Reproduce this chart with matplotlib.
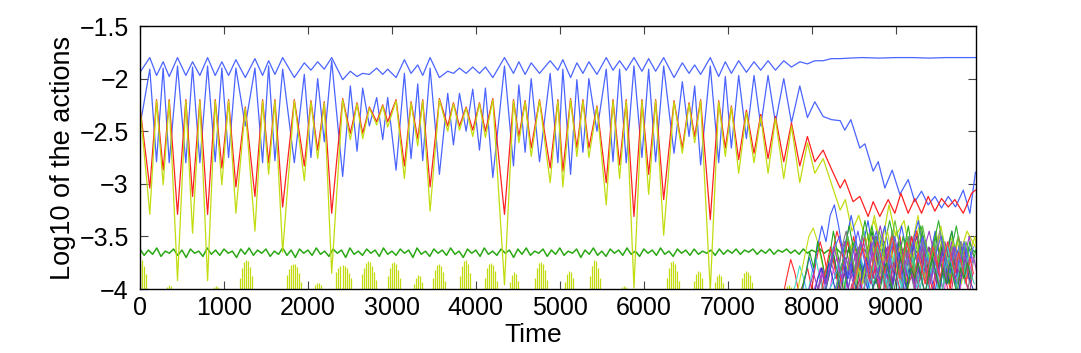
import numpy as np
import matplotlib
matplotlib.use("Agg")
import matplotlib.pyplot as plt

plt.rcParams['font.family'] = ['Liberation Sans', 'DejaVu Sans']

# extrema times shared by the four main curves (t <= 8339)
t_ext = [0, 117, 197, 276, 348, 447, 546, 626, 713, 805, 896, 975, 1055, 1142, 1254,
         1369, 1460, 1532, 1607, 1699, 1838, 1957, 2036, 2116, 2195, 2283, 2414, 2505,
         2585, 2652, 2732, 2819, 2891, 2950, 3050, 3149, 3228, 3308, 3367, 3455, 3566,
         3665, 3733, 3805, 3884, 3963, 4043, 4114, 4202, 4341, 4448, 4512, 4587, 4659,
         4758, 4885, 4977, 5036, 5128, 5203, 5275, 5346, 5442, 5553, 5633, 5712, 5791,
         5883, 5978, 6058, 6141, 6237, 6360, 6459, 6539, 6606, 6677, 6792, 6892, 6971,
         7043, 7130, 7222, 7313, 7393, 7480, 7568, 7667, 7759, 7858, 7949, 8037, 8136,
         8235, 8339]

blue_top = [-1.94, -1.80, -1.97, -1.84, -1.98, -1.80, -1.97, -1.84, -1.97, -1.80,
            -1.97, -1.84, -1.97, -1.82, -1.99, -1.81, -1.97, -1.83, -1.96, -1.80,
            -1.99, -1.85, -1.92, -1.84, -1.91, -1.80, -2.01, -1.93, -1.98, -1.95,
            -1.96, -1.90, -1.96, -1.91, -1.99, -1.82, -1.95, -1.87, -1.97, -1.80,
            -1.99, -1.93, -1.95, -1.90, -1.95, -1.89, -1.95, -1.89, -1.99, -1.80,
            -1.95, -1.84, -1.96, -1.85, -1.95, -1.83, -1.92, -1.82, -1.99, -1.85,
            -1.95, -1.84, -1.96, -1.80, -1.92, -1.83, -1.92, -1.80, -1.93, -1.81,
            -1.93, -1.80, -1.99, -1.85, -1.95, -1.87, -1.96, -1.80, -1.98, -1.84,
            -1.95, -1.83, -1.94, -1.84, -1.92, -1.83, -1.92, -1.83, -1.89, -1.84,
            -1.86, -1.83, -1.83, -1.81, -1.81]
blue_top_tail_t = [8450, 8600, 8800, 9000, 9200, 9400, 9600, 9800, 9950]
blue_top_tail = [-1.805, -1.80, -1.805, -1.80, -1.80, -1.805, -1.80, -1.80, -1.80]

blue_2 = [-2.45, -1.91, -2.79, -1.90, -2.80, -1.88, -2.80, -1.89, -2.80, -1.88,
          -2.79, -1.90, -2.75, -1.90, -2.45, -1.90, -2.80, -1.88, -2.78, -1.91,
          -2.80, -1.96, -2.75, -2.00, -2.60, -1.83, -2.93, -2.07, -2.69, -2.09,
          -2.45, -2.18, -2.58, -2.18, -2.87, -1.95, -2.76, -2.05, -2.78, -1.90,
          -2.91, -2.14, -2.63, -2.14, -2.50, -2.10, -2.68, -2.09, -2.94, -1.88,
          -2.83, -2.06, -2.70, -2.00, -2.79, -1.95, -2.80, -1.91, -2.91, -2.01,
          -2.70, -2.00, -2.50, -1.91, -2.79, -1.91, -2.80, -1.88, -2.75, -1.91,
          -2.79, -1.88, -2.71, -2.03, -2.55, -2.07, -2.82, -1.88, -2.80, -1.98,
          -2.66, -1.97, -2.57, -1.97, -2.45, -1.97, -2.42, -2.00, -2.42, -2.07,
          -2.37, -2.22, -2.36, -2.39, -2.40]
blue_2_tail_t = [8394, 8466, 8573, 8633, 8732, 8792, 8871, 8958, 9050, 9149,
                 9228, 9308, 9387, 9467, 9546, 9626, 9713, 9805, 9884, 9950]
blue_2_tail = [-2.49, -2.39, -2.66, -2.62, -2.88, -2.79, -3.04, -2.87, -3.10, -2.96,
               -3.17, -3.07, -3.20, -3.12, -3.23, -3.12, -3.22, -3.06, -3.28, -2.89]

red = [-2.27, -3.04, -2.20, -2.87, -2.20, -3.29, -2.20, -3.12, -2.20, -3.29,
       -2.20, -2.85, -2.20, -3.03, -2.27, -3.12, -2.20, -2.80, -2.20, -3.22,
       -2.20, -2.83, -2.21, -2.68, -2.22, -3.28, -2.19, -2.52, -2.23, -2.52,
       -2.27, -2.41, -2.25, -2.41, -2.20, -2.83, -2.22, -2.57, -2.20, -3.03,
       -2.19, -2.45, -2.23, -2.45, -2.27, -2.49, -2.23, -2.50, -2.19, -3.29,
       -2.20, -2.55, -2.21, -2.66, -2.20, -2.85, -2.20, -2.88, -2.19, -2.66,
       -2.20, -2.66, -2.26, -2.99, -2.20, -2.82, -2.20, -3.31, -2.20, -2.91,
       -2.20, -3.15, -2.21, -2.66, -2.23, -2.55, -2.20, -3.34, -2.21, -2.66,
       -2.26, -2.77, -2.30, -2.71, -2.34, -2.76, -2.36, -2.79, -2.42, -2.83,
       -2.55, -2.79, -2.68, -2.86, -3.04]
red_tail_t = [8394, 8493, 8573, 8672, 8732, 8811, 8911, 8990, 9062, 9149,
              9228, 9308, 9387, 9467, 9546, 9626, 9705, 9805, 9904, 9950]
red_tail = [-2.96, -3.17, -3.12, -3.31, -3.17, -3.31, -3.15, -3.28, -3.09, -3.28,
            -3.14, -3.28, -3.12, -3.26, -3.14, -3.22, -3.15, -3.28, -3.09, -3.06]

yellow = [-2.27, -3.29, -2.21, -3.01, -2.21, -3.92, -2.21, -3.47, -2.21, -3.92,
          -2.21, -3.01, -2.21, -3.28, -2.28, -3.45, -2.21, -2.91, -2.21, -3.65,
          -2.21, -2.97, -2.22, -2.76, -2.23, -3.85, -2.20, -2.58, -2.24, -2.57,
          -2.28, -2.44, -2.26, -2.46, -2.21, -2.95, -2.23, -2.64, -2.21, -3.26,
          -2.20, -2.50, -2.24, -2.49, -2.28, -2.55, -2.24, -2.56, -2.20, -3.96,
          -2.21, -2.61, -2.22, -2.74, -2.21, -2.99, -2.21, -3.03, -2.20, -2.74,
          -2.21, -2.75, -2.27, -3.20, -2.21, -2.95, -2.21, -3.99, -2.21, -3.10,
          -2.21, -3.49, -2.22, -2.71, -2.24, -2.61, -2.21, -4.02, -2.22, -2.74,
          -2.27, -2.90, -2.32, -2.80, -2.36, -2.90, -2.38, -2.95, -2.45, -2.99,
          -2.61, -2.90, -2.76, -3.00, -3.25]
yellow_tail_t = [8400, 8480, 8560, 8650, 8740, 8830, 8920, 9000, 9100, 9180,
                 9280, 9380, 9480, 9560, 9650, 9750, 9850, 9950]
yellow_tail = [-3.15, -3.45, -3.30, -3.55, -3.35, -3.60, -3.20, -3.50, -3.35, -3.70,
               -3.40, -3.75, -3.45, -3.80, -3.50, -3.70, -3.45, -3.60]

# green curve sampled every 50 time units from 0
green_dt = 50
green = [-3.62, -3.68, -3.63, -3.67, -3.61, -3.69, -3.64, -3.66, -3.62, -3.68,
         -3.63, -3.70, -3.62, -3.66, -3.64, -3.69, -3.61, -3.67, -3.63, -3.68,
         -3.62, -3.66, -3.64, -3.70, -3.62, -3.67, -3.61, -3.68, -3.63, -3.66,
         -3.62, -3.69, -3.64, -3.67, -3.61, -3.68, -3.63, -3.70, -3.62, -3.66,
         -3.63, -3.68, -3.61, -3.67, -3.64, -3.69, -3.62, -3.66, -3.63, -3.70,
         -3.61, -3.67, -3.64, -3.68, -3.62, -3.66, -3.63, -3.69, -3.61, -3.67,
         -3.64, -3.68, -3.62, -3.66, -3.63, -3.70, -3.61, -3.67, -3.64, -3.69,
         -3.62, -3.66, -3.63, -3.68, -3.61, -3.67, -3.64, -3.70, -3.62, -3.66,
         -3.63, -3.69, -3.61, -3.67, -3.64, -3.68, -3.62, -3.66, -3.63, -3.70,
         -3.62, -3.67, -3.61, -3.68, -3.64, -3.66, -3.62, -3.69, -3.63, -3.67,
         -3.61, -3.68, -3.64, -3.66, -3.62, -3.70, -3.63, -3.67, -3.61, -3.68,
         -3.64, -3.69, -3.62, -3.66, -3.63, -3.68, -3.61, -3.67, -3.64, -3.69,
         -3.62, -3.66, -3.63, -3.68, -3.61, -3.67, -3.64, -3.69, -3.62, -3.66,
         -3.63, -3.68, -3.62, -3.67, -3.64, -3.66, -3.63, -3.68, -3.62, -3.67,
         -3.63, -3.66, -3.62, -3.67, -3.63, -3.65, -3.62, -3.67, -3.63, -3.66,
         -3.62, -3.67, -3.63, -3.65, -3.62, -3.66, -3.63, -3.67, -3.62, -3.66,
         -3.63, -3.65, -3.62, -3.66, -3.63, -3.65, -3.62, -3.66, -3.63, -3.65,
         -3.62, -3.64, -3.61, -3.65, -3.62, -3.64, -3.61, -3.65, -3.62, -3.64,
         -3.61, -3.65, -3.62, -3.64, -3.61, -3.65, -3.62, -3.66, -3.61, -3.65,
         -3.62, -3.64, -3.61, -3.66, -3.62, -3.65, -3.61, -3.64, -3.62, -3.65]

# bursts of short spikes along the bottom: start time, spike tops
spike_dt = 24
burst_start = [0, 320, 880, 1190, 1750, 2080, 2340, 2640, 2950, 3260, 3490, 3810,
               4110, 4410, 4700, 5060, 5360, 5740, 6280, 6600, 6850, 7170, 7710]
burst_tops = [
    [-3.74, -3.72, -3.78, -3.86],
    [-3.98, -3.96, -3.97],
    [-3.98, -3.97, -3.98],
    [-3.90, -3.80, -3.74, -3.72, -3.73, -3.79, -3.88],
    [-3.87, -3.81, -3.77, -3.76, -3.76, -3.79, -3.85, -3.93],
    [-3.96, -3.94, -3.94, -3.96],
    [-3.84, -3.80, -3.78, -3.77, -3.78, -3.80, -3.85, -3.90],
    [-3.86, -3.80, -3.75, -3.73, -3.74, -3.78, -3.84, -3.91],
    [-3.88, -3.80, -3.75, -3.74, -3.76, -3.82, -3.90],
    [-3.95, -3.90, -3.87, -3.88, -3.93],
    [-3.90, -3.82, -3.77, -3.76, -3.78, -3.84, -3.92],
    [-3.88, -3.78, -3.73, -3.72, -3.76, -3.85],
    [-3.90, -3.80, -3.76, -3.75, -3.77, -3.83, -3.92],
    [-3.93, -3.87, -3.84, -3.86, -3.92],
    [-3.90, -3.80, -3.75, -3.74, -3.76, -3.82, -3.91],
    [-3.93, -3.86, -3.83, -3.84, -3.90],
    [-3.88, -3.78, -3.72, -3.73, -3.80, -3.90],
    [-3.98, -3.97, -3.98],
    [-3.90, -3.80, -3.74, -3.73, -3.76, -3.83, -3.92],
    [-3.92, -3.86, -3.83, -3.84, -3.90],
    [-3.93, -3.88, -3.86, -3.88, -3.94],
    [-3.90, -3.85, -3.83, -3.84, -3.87, -3.93],
    [-3.97, -3.96, -3.98],
]

# the many curves that appear after t ~ 7700: start time, step, values
chaos_start = [7650, 7760, 7810, 7870, 7835, 7915, 8010, 7955, 8070, 8120, 8165, 8215,
               8290, 8345, 8460, 8505, 7985, 8240, 8390, 8110, 8560, 8035, 8430, 8680]
chaos_step = [50, 48, 52, 50, 47, 53, 50, 49, 51, 46, 52, 50,
              48, 53, 49, 51, 44, 47, 45, 55, 43, 46, 44, 42]
chaos_vals = [
    [-4.1, -3.9, -3.72, -3.85, -4.05, -3.95, -3.8, -4.0, -3.75, -3.55, -3.7, -3.9, -3.65, -3.45, -3.6, -3.85,
     -3.7, -3.5, -3.75, -3.95, -3.7, -3.55, -3.8, -4.0, -3.75, -3.6, -3.85, -3.65, -3.5, -3.75, -3.9, -3.6,
     -3.45, -3.7, -3.95, -3.75, -3.55, -3.8, -3.6, -3.85, -4.0, -3.7, -3.5, -3.75, -3.9, -3.65],
    [-4.1, -3.95, -3.78, -3.9, -4.05, -3.85, -3.7, -3.9, -4.05, -3.8, -3.6, -3.8, -3.95, -3.7, -3.5, -3.7,
     -3.9, -3.65, -3.45, -3.7, -3.9, -3.6, -3.8, -4.0, -3.75, -3.55, -3.8, -3.95, -3.7, -3.5, -3.7, -3.9,
     -3.65, -3.8, -4.0, -3.7, -3.55, -3.75, -3.95, -3.7, -3.6, -3.85, -3.7, -3.95],
    [-4.1, -3.9, -3.7, -3.5, -3.42, -3.55, -3.75, -3.95, -3.8, -3.6, -3.8, -4.0, -3.75, -3.55, -3.75, -3.95,
     -3.7, -3.5, -3.3, -3.5, -3.7, -3.9, -3.65, -3.45, -3.6, -3.85, -3.7, -3.5, -3.3, -3.55, -3.75, -3.9,
     -3.65, -3.5, -3.7, -3.95, -3.75, -3.55, -3.7, -3.9, -3.65, -3.5, -3.75],
    [-4.1, -3.9, -3.7, -3.85, -3.6, -3.4, -3.55, -3.3, -3.2, -3.4, -3.65, -3.5, -3.3, -3.5, -3.75, -3.55,
     -3.35, -3.6, -3.8, -3.55, -3.4, -3.65, -3.85, -3.6, -3.4, -3.6, -3.8, -3.5, -3.35, -3.6, -3.85, -3.65,
     -3.45, -3.7, -3.9, -3.6, -3.45, -3.7, -3.55, -3.8, -3.6, -3.75],
    [-4.2, -4.0, -3.85, -3.65, -3.8, -3.55, -3.7, -3.9, -3.7, -3.45, -3.65, -3.85, -3.6, -3.4, -3.6, -3.8,
     -3.55, -3.35, -3.55, -3.75, -3.5, -3.7, -3.9, -3.65, -3.45, -3.7, -3.9, -3.6, -3.4, -3.65, -3.85, -3.6,
     -3.75, -3.95, -3.7, -3.5, -3.7, -3.9, -3.65, -3.45, -3.7, -3.85],
    [-4.2, -4.0, -3.85, -4.0, -3.8, -3.95, -3.75, -3.9, -3.7, -3.55, -3.75, -3.9, -3.65, -3.5, -3.7, -3.85,
     -3.6, -3.4, -3.6, -3.8, -3.55, -3.75, -3.95, -3.7, -3.5, -3.7, -3.9, -3.6, -3.45, -3.65, -3.85, -3.6,
     -3.8, -3.55, -3.75, -3.95, -3.7, -3.5, -3.7, -3.9, -3.6],
    [-4.2, -4.05, -3.9, -4.05, -3.85, -3.7, -3.9, -3.6, -3.45, -3.65, -3.85, -3.6, -3.8, -3.95, -3.7, -3.5,
     -3.7, -3.9, -3.65, -3.45, -3.7, -3.9, -3.7, -3.5, -3.75, -3.95, -3.7, -3.55, -3.8, -3.6, -3.8, -4.0,
     -3.75, -3.6, -3.85, -3.65, -3.85, -4.0, -3.8],
    [-4.2, -4.05, -3.95, -3.8, -3.95, -4.1, -3.85, -3.7, -3.9, -4.05, -3.8, -3.6, -3.8, -4.0, -3.75, -3.55,
     -3.75, -3.95, -3.7, -3.85, -4.05, -3.8, -3.6, -3.8, -4.0, -3.75, -3.9, -3.7, -3.5, -3.7, -3.9, -3.65,
     -3.85, -4.05, -3.8, -3.6, -3.8, -4.0, -3.75, -3.9, -3.7],
    [-4.2, -4.0, -3.8, -3.6, -3.8, -4.0, -3.75, -3.55, -3.75, -3.95, -3.7, -3.5, -3.7, -3.9, -3.65, -3.8,
     -4.0, -3.75, -3.55, -3.8, -4.0, -3.7, -3.5, -3.7, -3.9, -3.65, -3.85, -4.05, -3.75, -3.55, -3.75, -3.95,
     -3.7, -3.9, -3.6, -3.8],
    [-4.2, -4.0, -3.85, -3.65, -3.85, -4.05, -3.8, -3.6, -3.8, -4.0, -3.75, -3.9, -3.65, -3.45, -3.65, -3.85,
     -3.6, -3.8, -4.0, -3.75, -3.55, -3.75, -3.95, -3.7, -3.9, -3.65, -3.45, -3.7, -3.9, -3.65, -3.85, -3.6,
     -3.8, -3.95, -3.7, -3.85, -3.6],
    [-4.2, -4.0, -3.9, -3.75, -3.9, -4.05, -3.8, -3.95, -3.7, -3.85, -4.0, -3.75, -3.6, -3.8, -3.95, -3.7,
     -3.85, -4.05, -3.8, -3.65, -3.85, -4.0, -3.75, -3.9, -3.7, -3.85, -4.05, -3.8, -3.6, -3.8, -3.95, -3.75,
     -3.9, -3.7],
    [-4.2, -4.05, -3.9, -3.75, -3.9, -4.1, -3.85, -3.7, -3.85, -4.0, -3.8, -3.95, -3.75, -3.55, -3.75, -3.95,
     -3.7, -3.85, -4.05, -3.8, -3.6, -3.8, -3.95, -3.7, -3.85, -4.05, -3.8, -3.65, -3.85, -3.7, -3.9, -3.75,
     -3.6, -3.8],
    [-4.2, -4.0, -3.85, -4.0, -3.8, -3.65, -3.8, -3.95, -3.7, -3.5, -3.65, -3.85, -3.6, -3.8, -3.95, -3.7,
     -3.55, -3.75, -3.9, -3.65, -3.5, -3.7, -3.9, -3.6, -3.8, -3.95, -3.7, -3.55, -3.75, -3.65, -3.85, -3.6,
     -3.75],
    [-4.2, -3.95, -3.75, -3.55, -3.7, -3.9, -3.65, -3.4, -3.6, -3.8, -3.55, -3.35, -3.55, -3.75, -3.5, -3.7,
     -3.9, -3.6, -3.4, -3.6, -3.8, -3.55, -3.35, -3.6, -3.8, -3.6, -3.4, -3.65, -3.85, -3.55, -3.7, -3.5],
    [-4.2, -4.0, -3.8, -3.95, -3.7, -3.5, -3.7, -3.9, -3.65, -3.45, -3.65, -3.85, -3.6, -3.8, -4.0, -3.75,
     -3.55, -3.75, -3.9, -3.65, -3.85, -3.6, -3.4, -3.6, -3.8, -3.55, -3.75, -3.95, -3.7, -3.9],
    [-4.2, -4.0, -3.85, -3.7, -3.85, -3.6, -3.75, -3.95, -3.7, -3.5, -3.7, -3.9, -3.65, -3.8, -4.0, -3.75,
     -3.55, -3.7, -3.9, -3.65, -3.45, -3.65, -3.85, -3.6, -3.8, -3.55, -3.75, -3.95, -3.7],
    [-4.2, -4.05, -3.9, -3.8, -3.95, -3.75, -3.9, -4.05, -3.85, -3.7, -3.9, -3.75, -3.95, -4.1, -3.85, -3.7,
     -3.85, -4.0, -3.8, -3.95, -3.75, -3.9, -4.05, -3.8, -3.65, -3.85, -4.0, -3.8, -3.95, -3.75, -3.9, -4.05,
     -3.85, -3.7, -3.85, -4.0, -3.8, -3.95, -3.8, -3.9, -4.05, -3.85, -3.7, -3.9, -4.0],
    [-4.2, -4.0, -3.85, -3.7, -3.5, -3.65, -3.85, -3.6, -3.45, -3.65, -3.85, -3.65, -3.45, -3.6, -3.8, -3.55,
     -3.35, -3.55, -3.75, -3.5, -3.65, -3.85, -3.6, -3.4, -3.6, -3.8, -3.55, -3.75, -3.5, -3.7, -3.9, -3.65,
     -3.5, -3.7, -3.55, -3.75],
    [-4.2, -4.1, -3.95, -4.05, -3.9, -4.05, -3.85, -3.95, -3.8, -3.95, -4.1, -3.85, -3.95, -3.75, -3.9, -4.05,
     -3.8, -3.95, -3.85, -4.05, -3.9, -3.75, -3.9, -4.05, -3.85, -3.95, -3.8, -3.95, -4.1, -3.85, -3.95, -3.8,
     -3.9, -4.05, -3.85],
    [-4.2, -4.0, -3.8, -3.6, -3.5, -3.7, -3.9, -3.65, -3.45, -3.65, -3.85, -3.6, -3.45, -3.7, -3.9, -3.65,
     -3.5, -3.75, -3.95, -3.7, -3.55, -3.75, -3.5, -3.7, -3.9, -3.65, -3.5, -3.7, -3.85, -3.6, -3.8, -3.55,
     -3.75, -3.6],
    [-4.2, -4.05, -3.9, -3.8, -3.95, -3.85, -3.7, -3.85, -4.0, -3.8, -3.65, -3.85, -4.0, -3.75, -3.9, -3.7,
     -3.85, -4.0, -3.8, -3.65, -3.85, -3.7, -3.9, -4.05, -3.8, -3.7, -3.85, -4.0, -3.75, -3.9, -3.7, -3.85,
     -3.95],
    [-4.2, -4.0, -3.85, -3.95, -3.75, -3.6, -3.75, -3.9, -3.7, -3.8, -3.95, -3.7, -3.55, -3.7, -3.85, -3.65,
     -3.8, -3.95, -3.75, -3.6, -3.8, -3.95, -3.7, -3.85, -3.65, -3.8, -4.0, -3.75, -3.6, -3.8, -3.95, -3.7,
     -3.85, -3.7, -3.9, -3.75, -3.6, -3.8, -3.9, -3.7, -3.85],
    [-4.2, -4.0, -3.9, -3.75, -3.6, -3.75, -3.9, -3.7, -3.55, -3.7, -3.85, -3.65, -3.5, -3.7, -3.9, -3.7,
     -3.55, -3.75, -3.9, -3.65, -3.8, -3.95, -3.75, -3.6, -3.75, -3.9, -3.7, -3.55, -3.7, -3.85, -3.65, -3.8,
     -3.95, -3.7, -3.85],
    [-4.2, -4.0, -3.9, -4.05, -3.85, -3.75, -3.9, -4.05, -3.85, -3.7, -3.85, -4.0, -3.8, -3.9, -3.75, -3.9,
     -4.05, -3.85, -3.7, -3.85, -4.0, -3.8, -3.95, -3.75, -3.9, -4.05, -3.8, -3.9, -3.75, -3.9],
]
chaos_colors = ['#ff2a2a', '#40e0c8', '#c4dc14', '#3d5cff', '#22a81c', '#9a3cc8', '#7a7a7a', '#e040e0',
                '#ff2a2a', '#1e8a1e', '#30d0e0', '#3050e8', '#8a30b8', '#30b030', '#b8d820', '#888888',
                '#2840d0', '#60c040', '#d03070', '#5a5aff', '#40c8b0', '#a040c0', '#ff4040', '#309030']

x_ticks = [0, 1000, 2000, 3000, 4000, 5000, 6000, 7000, 8000, 9000]
y_ticks = [-4, -3.5, -3, -2.5, -2, -1.5]
y_tick_labels = ['\u22124', '\u22123.5', '\u22123', '\u22122.5', '\u22122', '\u22121.5']

c_blue = '#4a64ff'
c_red = '#ff2020'
c_yel = '#c2dc10'
c_grn = '#2aa814'

fig = plt.figure(figsize=(10.81, 3.53), dpi=100)
ax = fig.add_axes([0.1295, 0.1813, 0.7734, 0.745])

ax.plot(np.arange(len(green)) * green_dt, green, color=c_grn, lw=1.1)

for start, tops in zip(burst_start, burst_tops):
    ts = start + spike_dt * np.arange(len(tops))
    ax.vlines(ts, -4.05, tops, color=c_yel, lw=0.9)

ax.plot(t_ext + blue_top_tail_t, blue_top + blue_top_tail, color=c_blue, lw=0.9)
ax.plot(t_ext + blue_2_tail_t, blue_2 + blue_2_tail, color=c_blue, lw=0.9)
ax.plot(t_ext + red_tail_t, red + red_tail, color=c_red, lw=0.9)
ax.plot(t_ext + yellow_tail_t, yellow + yellow_tail, color=c_yel, lw=0.9)

for start, step, vals, col in zip(chaos_start, chaos_step, chaos_vals, chaos_colors):
    ts = start + step * np.arange(len(vals))
    ax.plot(ts, vals, color=col, lw=0.8)

ax.set_xlim(0, 9957)
ax.set_ylim(-4, -1.5)
ax.set_xticks(x_ticks)
ax.set_xticklabels([str(v) for v in x_ticks])
ax.set_yticks(y_ticks)
ax.set_yticklabels(y_tick_labels)
ax.tick_params(direction='in', length=6, width=0.8, top=True, right=True,
               labelsize=18, color='#444444')
ax.tick_params(axis='y', pad=8)
ax.tick_params(axis='x', pad=5)
for s in ax.spines.values():
    s.set_linewidth(1.0)

ax.set_ylabel('Log10 of the actions', fontsize=19.5)
ax.yaxis.set_label_coords(-0.077, 0.5)
ax.set_xlabel('Time', fontsize=19)
ax.xaxis.set_label_coords(0.47, -0.13)

fig.savefig('out.png', dpi=100)
